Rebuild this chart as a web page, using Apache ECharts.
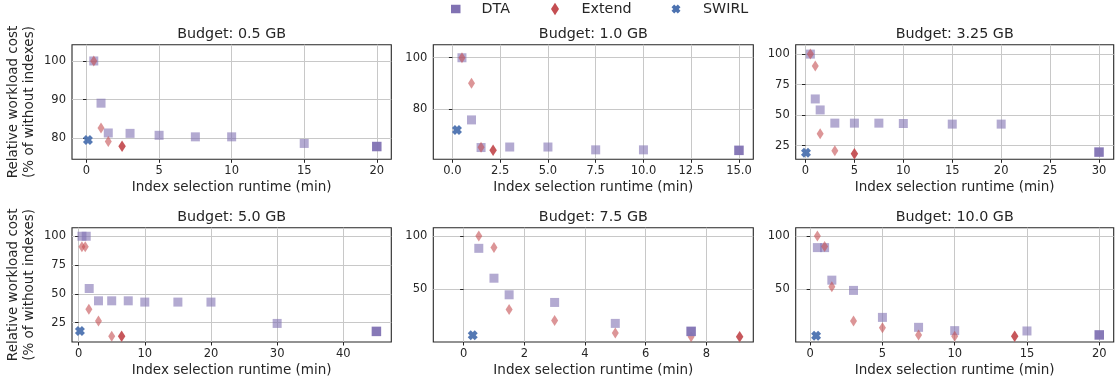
<!DOCTYPE html>
<html>
<head>
<meta charset="utf-8">
<script src="https://cdn.jsdelivr.net/npm/echarts@6/dist/echarts.min.js"></script>
<style>
html,body{margin:0;padding:0;background:#fff;}
#c{width:1119px;height:387px;}
</style>
</head>
<body>
<div id="c"></div>
<script>
// ---------- data (runtime in min, relative workload cost in %) ----------
const budgets = ['Budget: 0.5 GB', 'Budget: 1.0 GB', 'Budget: 3.25 GB', 'Budget: 5.0 GB', 'Budget: 7.5 GB', 'Budget: 10.0 GB'];

const dtaSteps05 = [[0.5,100],[1,89.1],[1.5,81.4],[3,81.3],[5,80.8],[7.5,80.4],[10,80.4],[15,78.7]];
const dtaFinal05 = [[20,77.9]];
const extSteps05 = [[0.5,100],[1,82.7],[1.5,79.2]];
const extFinal05 = [[2.45,78.0]];
const swirl05 = [[0.1,79.6]];

const dtaSteps10 = [[0.5,100],[1,75.7],[1.5,64.9],[3,65.1],[5,65.1],[7.5,64.0],[10,64.0]];
const dtaFinal10 = [[15,63.8]];
const extSteps10 = [[0.5,100],[1,90],[1.5,65]];
const extFinal10 = [[2.13,63.8]];
const swirl10 = [[0.24,71.8]];

const dtaSteps325 = [[0.5,100],[1,63.3],[1.5,54.3],[3,43.5],[5,43.5],[7.5,43.5],[10,43.2],[15,42.7],[20,42.7]];
const dtaFinal325 = [[30,19.8]];
const extSteps325 = [[0.5,100],[1,90.2],[1.5,34.8],[3,20.9]];
const extFinal325 = [[5,18.5]];
const swirl325 = [[0.05,19.3]];

const dtaSteps50 = [[0.5,100],[1.15,100],[1.6,54.7],[3,44.0],[5,44.0],[7.5,44.0],[10,42.9],[15,42.9],[20,42.9],[30,24.4]];
const dtaFinal50 = [[45,17.5]];
const extSteps50 = [[0.5,90.8],[1.0,90.8],[1.55,36.8],[3,26.4],[5,13.2]];
const extFinal50 = [[6.5,13.2]];
const swirl50 = [[0.2,17.8]];

const dtaSteps75 = [[0.5,88.4],[1,60.3],[1.5,44.7],[3,37.5],[5,17.8]];
const dtaFinal75 = [[7.5,10.3]];
const extSteps75 = [[0.5,100],[1,89.1],[1.5,30.9],[3,20.6],[5,8.75],[7.5,5.3]];
const extFinal75 = [[9.1,5.3]];
const swirl75 = [[0.3,6.6]];

const dtaSteps100 = [[0.5,89.1],[1,89.1],[1.5,58.7],[3,49.1],[5,23.9],[7.5,14.6],[10,11.5],[15,11.2]];
const dtaFinal100 = [[20,7.5]];
const extSteps100 = [[0.5,100],[1,90.1],[1.5,52.5],[3,20.5],[5,14.3],[7.5,7.5],[10,6.2]];
const extFinal100 = [[14.15,6.2]];
const swirl100 = [[0.41,6.8]];

// tick labels
const xTicks = [[0,5,10,15,20],[0,2.5,5,7.5,10,12.5,15],[0,5,10,15,20,25,30],[0,10,20,30,40],[0,2,4,6,8],[0,5,10,15,20]];
const yTicks = [[80,90,100],[80,100],[25,50,75,100],[25,50,75,100],[50,100],[50,100]];

// ---------- layout / style ----------
const xRange = [[-1,21],[-1,15.75],[-1,31.5],[-1,47.25],[-1,9.55],[-1,21]];
const yRange = [[74.6,104.2],[60.3,105.1],[13.9,107.7],[8.3,107.4],[0.3,107.8],[0.9,107.7]];
const panels = [
  [dtaSteps05, dtaFinal05, extSteps05, extFinal05, swirl05],
  [dtaSteps10, dtaFinal10, extSteps10, extFinal10, swirl10],
  [dtaSteps325, dtaFinal325, extSteps325, extFinal325, swirl325],
  [dtaSteps50, dtaFinal50, extSteps50, extFinal50, swirl50],
  [dtaSteps75, dtaFinal75, extSteps75, extFinal75, swirl75],
  [dtaSteps100, dtaFinal100, extSteps100, extFinal100, swirl100]
];
const FONT = 'DejaVu Sans';
const INK = '#262626';
const C_DTA = '#8172B3', C_EXT = '#C44E52', C_SW = '#4C72B0';
const X_PATH = 'path://M0,3 L3,0 L5,2 L7,0 L10,3 L8,5 L10,7 L7,10 L5,8 L3,10 L0,7 L2,5 Z';
const gLeft = [72, 433.3, 795.7], gWidth = [319.3, 320, 318];
const gTop = [44.7, 227.7], gHeight = [114.6, 114.3];
const xFmt = [v => String(v), v => v.toFixed(1), v => String(v), v => String(v), v => String(v), v => String(v)];

const grid = [], xAxis = [], yAxis = [], series = [], title = [];
for (let i = 0; i < 6; i++) {
  const r = Math.floor(i / 3), c = i % 3;
  grid.push({left: gLeft[c], top: gTop[r], width: gWidth[c], height: gHeight[r],
    show: true, borderColor: INK, borderWidth: 1.1, backgroundColor: 'transparent'});
  title.push({text: budgets[i], left: gLeft[c] + gWidth[c] / 2, top: gTop[r] - 17.5, textAlign: 'center', padding: 0,
    textStyle: {fontFamily: FONT, fontSize: 14.3, fontWeight: 'normal', color: INK}});
  xAxis.push({type: 'value', gridIndex: i, min: xRange[i][0], max: xRange[i][1],
    name: 'Index selection runtime (min)', nameLocation: 'middle', nameGap: 21,
    nameTextStyle: {fontFamily: FONT, fontSize: 13.5, color: INK},
    axisLine: {show: false},
    axisTick: {show: true, length: 3.5, customValues: xTicks[i], lineStyle: {color: INK, width: 1}},
    axisLabel: {customValues: xTicks[i], formatter: xFmt[i], margin: 6, fontFamily: FONT, fontSize: 11.5, color: INK},
    splitLine: {show: true, lineStyle: {color: '#c8c8c8', width: 1}}});
  yAxis.push({type: 'value', gridIndex: i, min: yRange[i][0], max: yRange[i][1],
    name: c === 0 ? 'Relative workload cost\n(% of without indexes)' : '',
    nameLocation: 'middle', nameGap: 35, nameRotate: 90,
    nameTextStyle: {fontFamily: FONT, fontSize: 13.5, color: INK, lineHeight: 16},
    axisLine: {show: false},
    axisTick: {show: true, length: 3.5, customValues: yTicks[i], lineStyle: {color: INK, width: 1}},
    axisLabel: {customValues: yTicks[i], margin: 6, fontFamily: FONT, fontSize: 11.5, color: INK},
    splitLine: {show: true, lineStyle: {color: '#c8c8c8', width: 1}}});
  const p = panels[i];
  const base = {type: 'scatter', xAxisIndex: i, yAxisIndex: i, silent: true, animation: false};
  series.push(Object.assign({}, base, {name: 'DTA', data: p[0], symbol: 'rect', symbolSize: 9,
    itemStyle: {color: C_DTA, opacity: 0.6}, z: 2}));
  series.push(Object.assign({}, base, {name: 'Extend', data: p[2], symbol: 'diamond', symbolSize: [7, 11],
    itemStyle: {color: C_EXT, opacity: 0.6}, z: 3}));
  series.push(Object.assign({}, base, {name: 'DTA', data: p[1], symbol: 'rect', symbolSize: 9.5,
    itemStyle: {color: C_DTA, opacity: 0.95}, z: 4}));
  series.push(Object.assign({}, base, {name: 'Extend', data: p[3], symbol: 'diamond', symbolSize: [7.5, 11.5],
    itemStyle: {color: C_EXT, opacity: 0.95}, z: 5}));
  series.push(Object.assign({}, base, {name: 'SWIRL', data: p[4], symbol: X_PATH, symbolSize: 10,
    itemStyle: {color: C_SW, opacity: 0.95}, z: 6}));
}

const legBase = {fontFamily: FONT, fontSize: 14.3, color: INK};
const legend = [
  {data: [{name: 'DTA', icon: 'rect', itemStyle: {color: C_DTA, opacity: 1}}], left: 451, top: 2, itemWidth: 9.5, itemHeight: 8.5, padding: 0, selectedMode: false,
    textStyle: Object.assign({padding: [0, 0, 0, 16]}, legBase)},
  {data: [{name: 'Extend', icon: 'diamond', itemStyle: {color: C_EXT, opacity: 1}}], left: 551, top: 2, itemWidth: 8, itemHeight: 12.5, padding: 0, selectedMode: false,
    textStyle: Object.assign({padding: [0, 0, 0, 17.5]}, legBase)},
  {data: [{name: 'SWIRL', icon: X_PATH, itemStyle: {color: C_SW, opacity: 1}}], left: 671.5, top: 2, itemWidth: 9, itemHeight: 9, padding: 0, selectedMode: false,
    textStyle: Object.assign({padding: [0, 0, 0, 17.5]}, legBase)}
];

const chart = echarts.init(document.getElementById('c'), null, {renderer: 'canvas'});
chart.setOption({backgroundColor: '#fff', animation: false, title, legend, grid, xAxis, yAxis, series});
</script>
</body>
</html>
